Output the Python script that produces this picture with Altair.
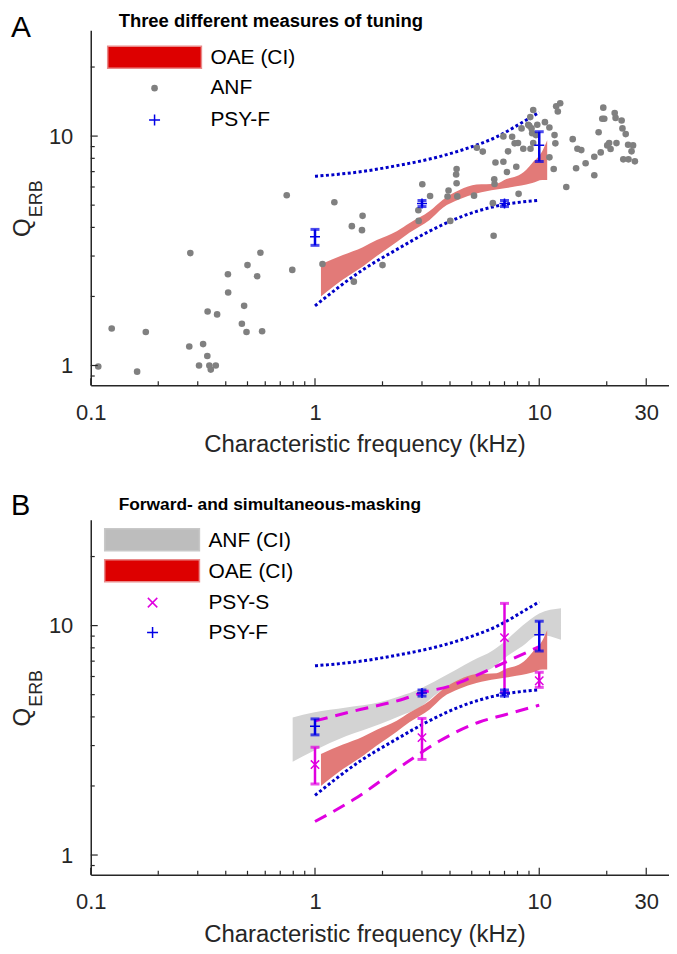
import altair as alt
import pandas as pd

FONT = "Liberation Sans"
AXIS_COLOR = "#262626"
W, H = 580, 356
X_DOMAIN = [0.1, 37.9]
Y_DOMAIN = [0.82, 28.9]

RED_BAND = "#e27a78"
GRAY_BAND = "#d3d3d3"
BLUE_DOT = "#0000c8"
BLUE = "#0000e6"
MAGENTA = "#e000e0"
ANF_GRAY = "#808080"

# ---------------- data ----------------
anf_freq = [0.748, 0.278, 0.571, 0.500, 0.409, 0.552, 0.792, 0.410, 0.483, 0.332,
            0.366, 0.472, 0.495, 0.581, 0.124, 0.176, 0.275, 0.317, 0.331, 0.304,
            0.338, 0.361, 0.343, 0.108, 0.161, 1.22, 1.63, 1.46, 1.62, 1.08,
            2.00, 1.49, 3.01, 3.26, 2.89, 2.90, 3.94, 3.90, 4.01, 4.28,
            4.26, 4.28, 4.31, 5.12, 5.27, 5.60, 6.30, 6.32, 6.21, 6.26,
            6.38, 6.92, 7.18, 7.26, 6.92, 7.57, 7.77, 8.04, 8.34, 8.49,
            7.90, 8.09, 8.93, 9.12, 9.40, 9.24, 9.14, 9.80, 9.67, 9.40,
            10.6, 11.1, 11.7, 11.8, 11.1, 11.6, 11.9, 12.4, 12.1, 14.1,
            14.8, 15.4, 14.6, 13.2, 16.1, 17.6, 17.6, 18.4, 18.8, 19.1,
            19.5, 19.3, 20.1, 20.8, 20.5, 21.7, 21.9, 22.1, 23.3, 23.5,
            24.3, 24.9, 26.2, 25.8, 23.7, 25.0, 26.7, 9.03, 9.30]
anf_q = [5.52, 3.09, 3.10, 2.74, 2.50, 2.45, 2.61, 2.08, 1.82, 1.72,
         1.67, 1.52, 1.40, 1.41, 1.45, 1.40, 1.21, 1.24, 1.10, 1.00,
         1.00, 1.00, 0.96, 0.99, 0.94, 5.15, 4.49, 4.05, 3.89, 2.77,
         2.74, 2.32, 6.17, 5.48, 4.75, 4.27, 5.79, 5.45, 4.27, 7.19,
         6.80, 6.23, 5.46, 5.50, 8.90, 8.56, 6.48, 6.18, 5.10, 3.68,
         7.67, 7.73, 6.97, 8.58, 9.97, 9.93, 9.30, 9.33, 10.8, 8.81,
         7.35, 5.60, 11.2, 12.1, 13.0, 10.8, 8.81, 11.2, 10.1, 9.32,
         11.5, 10.9, 10.1, 9.30, 8.08, 7.19, 13.5, 13.9, 12.8, 9.70,
         8.81, 8.69, 7.24, 6.00, 7.61, 8.13, 6.75, 10.4, 8.49, 11.9,
         11.9, 13.3, 9.11, 8.78, 9.32, 12.6, 12.0, 9.32, 11.7, 10.8,
         10.2, 9.17, 9.11, 8.58, 7.92, 7.92, 7.76, 11.1, 10.3]

oae_freq = [1.063, 1.332, 1.634, 1.886, 2.314, 2.644, 3.245, 3.707, 4.410,
            5.248, 6.442, 7.135, 7.903, 8.755, 9.309, 10.31, 10.85]
oae_hi = [2.76, 3.03, 3.28, 3.52, 3.85, 4.18, 4.71, 5.27, 5.82,
          6.15, 6.20, 6.50, 6.68, 7.14, 7.63, 8.58, 9.58]
oae_lo = [2.00, 2.37, 2.70, 3.00, 3.45, 3.80, 4.31, 4.86, 5.30,
          5.62, 5.85, 5.94, 6.04, 6.15, 6.25, 6.44, 6.44]

anfci_freq = [0.795, 0.983, 1.38, 1.94, 2.39, 2.93, 3.59, 5.05, 6.20, 7.11, 8.43, 10.0, 12.5]
anfci_hi = [3.98, 4.18, 4.40, 4.63, 4.92, 5.29, 5.86, 7.05, 7.79, 8.62, 10.0, 11.3, 11.9]
anfci_lo = [2.55, 2.84, 3.30, 3.72, 4.04, 4.40, 5.15, 6.00, 6.55, 7.30, 8.15, 9.13, 8.68]

psyf_freq = [1, 3, 7, 10]
psyf_q = [3.64, 5.08, 5.08, 9.12]
psyf_lo = [3.34, 4.93, 4.93, 7.75]
psyf_hi = [3.92, 5.24, 5.24, 10.45]

psys_freq = [1, 3, 7, 10]
psys_q = [2.48, 3.25, 8.86, 5.75]
psys_lo = [2.04, 2.61, 5.12, 5.38]
psys_hi = [2.95, 3.94, 12.5, 6.26]

dot_up_freq = [1.0, 1.64, 2.31, 3.24, 4.56, 6.42, 9.03, 10.0]
dot_up_q = [6.68, 7.02, 7.43, 7.94, 8.72, 9.90, 11.97, 12.7]
dot_lo_freq = [1.0, 1.64, 2.31, 3.24, 4.56, 6.42, 10.0]
dot_lo_q = [1.82, 2.62, 3.20, 3.85, 4.48, 4.95, 5.25]

dash_up_freq = [1.0, 1.5, 2.5, 3.0, 4.0, 5.0, 7.0, 10.0]
dash_up_q = [3.84, 4.25, 4.80, 5.10, 5.45, 5.95, 6.90, 8.10]
dash_lo_freq = [1.0, 1.48, 2.56, 3.59, 5.41, 7.11, 9.03, 10.0]
dash_lo_q = [1.40, 1.74, 2.53, 3.14, 3.80, 4.10, 4.38, 4.50]

x_major = [0.1, 1, 10, 30]
x_minor = [0.2, 0.3, 0.4, 0.5, 0.6, 0.7, 0.8, 0.9, 2, 3, 4, 5, 6, 7, 8, 9, 20]
y_major = [1, 10]
y_minor = [0.9, 2, 3, 4, 5, 6, 7, 8, 9, 20]

X_TITLE = "Characteristic frequency (kHz)"

# ---------------- scales / axes ----------------
xs = alt.Scale(type="log", domain=X_DOMAIN, nice=False)
ys = alt.Scale(type="log", domain=Y_DOMAIN, nice=False)
x_axis = alt.Axis(values=x_major, format="~g", title=None,
                  ticks=False, tickSize=0, grid=False, domainColor=AXIS_COLOR, domainWidth=1.5,
                  labelFont=FONT, labelFontSize=22, labelColor=AXIS_COLOR, labelPadding=17,
                  labelFlush=False)
y_axis = alt.Axis(values=y_major, format="~g", title=None,
                  ticks=False, tickSize=0, grid=False, domainColor=AXIS_COLOR, domainWidth=1.5,
                  labelFont=FONT, labelFontSize=22, labelColor=AXIS_COLOR, labelPadding=18,
                  labelFlush=False)


def X(field):
    return alt.X(f"{field}:Q", scale=xs, axis=x_axis)


def Y(field):
    return alt.Y(f"{field}:Q", scale=ys, axis=y_axis)


def one(t=""):
    return pd.DataFrame({"t": [t]})


def text(t, x, y, size, weight="normal", align="left", baseline="alphabetic", angle=0, color="#000000"):
    kw = dict(font=FONT, fontSize=size, fontWeight=weight, align=align, baseline=baseline, color=color)
    if angle:
        kw["angle"] = angle
    return alt.Chart(one(t)).mark_text(**kw).encode(x=alt.value(x), y=alt.value(y), text="t:N")


PLUS = "M-1,0H1M0,-1V1"
CROSS = "M-1,-1L1,1M-1,1L1,-1"


def tick_layers():
    xr_major = alt.Chart(pd.DataFrame({"v": x_major})).mark_rule(color=AXIS_COLOR, strokeWidth=1.2).encode(
        x=X("v"), y=alt.value(H), y2=alt.value(H - 7))
    xr_minor = alt.Chart(pd.DataFrame({"v": x_minor})).mark_rule(color=AXIS_COLOR, strokeWidth=1.2).encode(
        x=X("v"), y=alt.value(H), y2=alt.value(H - 4))
    yr_major = alt.Chart(pd.DataFrame({"v": y_major})).mark_rule(color=AXIS_COLOR, strokeWidth=1.2).encode(
        y=Y("v"), x=alt.value(0), x2=alt.value(7))
    yr_minor = alt.Chart(pd.DataFrame({"v": y_minor})).mark_rule(color=AXIS_COLOR, strokeWidth=1.2).encode(
        y=Y("v"), x=alt.value(0), x2=alt.value(4))
    return [xr_major, xr_minor, yr_major, yr_minor]


def axis_title_layers():
    return [text("Q", -61, 198, 24, angle=270, align="center", color=AXIS_COLOR),
            text("ERB", -49, 169, 18, angle=270, align="center", color=AXIS_COLOR),
            text(X_TITLE, W / 2 - 15, H + 67, 24, align="center", color=AXIS_COLOR)]


def band(freq, hi, lo, color):
    df = pd.DataFrame({"f": freq, "hi": hi, "lo": lo})
    return alt.Chart(df).mark_area(color=color, opacity=1, interpolate="monotone").encode(
        x=X("f"), y=Y("hi"), y2="lo:Q")


def curve(freq_a, q_a, freq_b, q_b, color, dash, width):
    df = pd.concat([pd.DataFrame({"f": freq_a, "q": q_a, "c": "a"}),
                    pd.DataFrame({"f": freq_b, "q": q_b, "c": "b"})])
    return alt.Chart(df).mark_line(color=color, strokeDash=dash, strokeWidth=width,
                                   interpolate="monotone").encode(
        x=X("f"), y=Y("q"), detail="c:N")


def errorbars(freq, q, lo, hi, color, shape, msize):
    df = pd.DataFrame({"f": freq, "q": q, "lo": lo, "hi": hi})
    base = alt.Chart(df)
    return [
        base.mark_rule(color=color, strokeWidth=2.5).encode(x=X("f"), y=Y("lo"), y2="hi:Q"),
        base.mark_tick(color=color, orient="horizontal", size=9, thickness=3).encode(x=X("f"), y=Y("lo")),
        base.mark_tick(color=color, orient="horizontal", size=9, thickness=3).encode(x=X("f"), y=Y("hi")),
        base.mark_point(shape=shape, filled=False, size=msize, strokeWidth=1.5, color=color, opacity=1).encode(
            x=X("f"), y=Y("q")),
    ]


def legend_rect(x1, x2, y1, y2, fill, stroke):
    return alt.Chart(one()).mark_rect(fill=fill, stroke=stroke, strokeWidth=1.5).encode(
        x=alt.value(x1), x2=alt.value(x2), y=alt.value(y1), y2=alt.value(y2))


def legend_symbol(x, y, shape, color, size, filled):
    return alt.Chart(one()).mark_point(shape=shape, filled=filled, size=size, color=color, opacity=1,
                                       strokeWidth=1.5).encode(x=alt.value(x), y=alt.value(y))


# ---------------- panel A ----------------
anf_df = pd.DataFrame({"f": anf_freq, "q": anf_q})
panel_a = alt.layer(
    band(oae_freq, oae_hi, oae_lo, RED_BAND),
    curve(dot_up_freq, dot_up_q, dot_lo_freq, dot_lo_q, BLUE_DOT, [3, 2.5], 3),
    alt.Chart(anf_df).mark_circle(size=44, color=ANF_GRAY, opacity=1).encode(x=X("f"), y=Y("q")),
    *errorbars(psyf_freq, psyf_q, psyf_lo, psyf_hi, BLUE, PLUS, 100),
    *tick_layers(),
    *axis_title_layers(),
    text("A", -80, 7, 30),
    text("Three different measures of tuning", 28, -3, 18.5, weight="bold"),
    legend_rect(17, 111, 16, 38, "#dd0000", "#e98a8a"),
    text("OAE (CI)", 120, 28, 21, baseline="middle"),
    legend_symbol(64, 58, "circle", ANF_GRAY, 44, True),
    text("ANF", 120, 58, 21, baseline="middle"),
    legend_symbol(64, 90, PLUS, BLUE, 121, False),
    text("PSY-F", 120, 90, 21, baseline="middle"),
).properties(width=W, height=H)

# ---------------- panel B ----------------
panel_b = alt.layer(
    band(anfci_freq, anfci_hi, anfci_lo, GRAY_BAND),
    band(oae_freq, oae_hi, oae_lo, RED_BAND),
    curve(dot_up_freq, dot_up_q, dot_lo_freq, dot_lo_q, BLUE_DOT, [3, 2.5], 3),
    curve(dash_up_freq, dash_up_q, dash_lo_freq, dash_lo_q, MAGENTA, [13, 8], 3),
    *errorbars(psys_freq, psys_q, psys_lo, psys_hi, MAGENTA, CROSS, 70),
    *errorbars(psyf_freq, psyf_q, psyf_lo, psyf_hi, BLUE, PLUS, 100),
    *tick_layers(),
    *axis_title_layers(),
    text("B", -80, -5, 29),
    text("Forward- and simultaneous-masking", 28, -10, 17.4, weight="bold"),
    legend_rect(14, 109, 9, 31, "#bdbdbd", "#c8c8c8"),
    text("ANF (CI)", 118, 21, 21, baseline="middle"),
    legend_rect(14, 109, 40, 62, "#dd0000", "#e98a8a"),
    text("OAE (CI)", 118, 52, 21, baseline="middle"),
    legend_symbol(62, 83, CROSS, MAGENTA, 90, False),
    text("PSY-S", 118, 83, 21, baseline="middle"),
    legend_symbol(62, 113, PLUS, BLUE, 121, False),
    text("PSY-F", 118, 113, 21, baseline="middle"),
).properties(width=W, height=H)

chart = alt.vconcat(panel_a, panel_b, spacing=35).properties(
    padding={"left": 3, "top": 3, "right": 0, "bottom": 0}).configure_view(stroke=None)

chart.save("out.html", embed_options={"renderer": "svg", "actions": False})
